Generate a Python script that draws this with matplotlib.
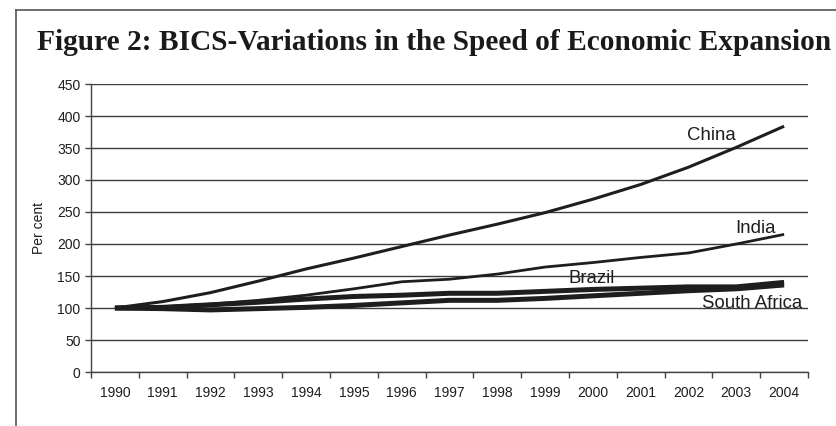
import matplotlib.pyplot as plt
from matplotlib.lines import Line2D
import numpy as np

plt.rcParams['font.family'] = ['Liberation Sans', 'DejaVu Sans']

years = ['1990', '1991', '1992', '1993', '1994', '1995', '1996', '1997',
         '1998', '1999', '2000', '2001', '2002', '2003', '2004']
china = [100, 110, 124, 142, 161, 178, 196, 214, 231, 249, 270, 293, 320, 351, 384]
india = [100, 102, 106, 112, 120, 130, 141, 145, 153, 164, 171, 179, 186, 200, 215]
brazil = [100, 101, 105, 109, 114, 118, 120, 123, 123, 126, 129, 131, 133, 133, 140]
south_africa = [100, 99, 97, 99, 101, 104, 108, 112, 112, 115, 119, 123, 127, 130, 136]

ink = '#1e1e1e'

fig = plt.figure(figsize=(8.36, 4.26), dpi=100)
ax = fig.add_axes([91 / 836, 1 - 372 / 426, (808 - 91) / 836, (372 - 84) / 426])

x = np.arange(len(years))
ax.plot(x, china, color=ink, lw=2.2, solid_capstyle='butt')
ax.plot(x, india, color=ink, lw=2.0, solid_capstyle='butt')
ax.plot(x, brazil, color=ink, lw=3.6, solid_capstyle='butt')
ax.plot(x, south_africa, color=ink, lw=3.6, solid_capstyle='butt')

ax.set_xlim(-0.5, len(years) - 0.5)
ax.set_ylim(0, 450)
ax.set_yticks(range(0, 451, 50))
ax.set_xticks(x)
ax.set_xticklabels(years)
ax.set_xticks(np.arange(-0.5, len(years)), minor=True)
ax.tick_params(axis='x', which='major', length=0, pad=10, labelsize=10, colors=ink)
ax.tick_params(axis='x', which='minor', length=4, width=1, direction='out', color='#444444')
ax.tick_params(axis='y', length=4, width=1, labelsize=10, colors=ink, color='#444444')
ax.grid(axis='y', color='#3c3c3c', lw=1)
ax.set_axisbelow(True)
for side in ['top', 'right']:
    ax.spines[side].set_visible(False)
for side in ['left', 'bottom']:
    ax.spines[side].set_color('#444444')
    ax.spines[side].set_linewidth(1)
ax.set_ylabel('Per cent', fontsize=10, color=ink, labelpad=8)

# series labels
ax.text(12.47, 369, 'China', fontsize=13.4, color=ink, ha='center', va='center')
ax.text(13.41, 224, 'India', fontsize=13.4, color=ink, ha='center', va='center')
ax.text(9.98, 146, 'Brazil', fontsize=13.4, color=ink, ha='center', va='center')
ax.text(13.33, 107, 'South Africa', fontsize=13.4, color=ink, ha='center', va='center')

# title and frame
fig.text(37 / 836, 1 - 43 / 426, 'Figure 2: BICS-Variations in the Speed of Economic Expansion',
         family='Liberation Serif', weight='bold', fontsize=21.2, color='#1a1a1a',
         ha='left', va='center')
fig.add_artist(Line2D([16 / 836, 16 / 836], [0, 1 - 10 / 426], transform=fig.transFigure,
                      color='#555555', lw=1.2))
fig.add_artist(Line2D([16 / 836, 1], [1 - 10 / 426, 1 - 10 / 426], transform=fig.transFigure,
                      color='#555555', lw=1.2))

fig.savefig('out.png', dpi=100)
